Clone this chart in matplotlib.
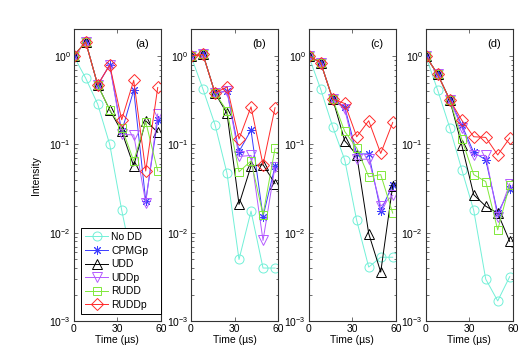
import numpy as np
import matplotlib
matplotlib.use("Agg")
import matplotlib.pyplot as plt
from matplotlib.ticker import LogLocator, NullFormatter

plt.rcParams['font.family'] = ['Liberation Sans', 'DejaVu Sans']
plt.rcParams['mathtext.fontset'] = 'custom'
plt.rcParams['mathtext.rm'] = 'Liberation Sans'
plt.rcParams['mathtext.it'] = 'Liberation Sans'

time_us = [0, 8.25, 16.5, 24.75, 33.0, 41.25, 49.5, 57.75]
series_names = ["No DD", "CPMGp", "UDD", "UDDp", "RUDD", "RUDDp"]
panel_labels = ["(a)", "(b)", "(c)", "(d)"]

# panel (a)
a_nodd  = [1, 0.56, 0.285, 0.10, 0.018, 0.004, 0.0035, 0.005]
a_cpmgp = [1, 1.44, 0.47, 0.79, 0.14, 0.41, 0.023, 0.19]
a_udd   = [1, 1.44, 0.47, 0.245, 0.14, 0.057, 0.185, 0.137]
a_uddp  = [1, 1.44, 0.47, 0.79, 0.13, 0.128, 0.022, 0.22]
a_rudd  = [1, 1.44, 0.47, 0.245, 0.155, 0.065, 0.18, 0.05]
a_ruddp = [1, 1.44, 0.47, 0.79, 0.19, 0.53, 0.05, 0.44]
# panel (b)
b_nodd  = [1, 0.42, 0.167, 0.047, 0.005, 0.0176, 0.004, 0.004]
b_cpmgp = [1, 1.04, 0.38, 0.40, 0.083, 0.145, 0.0153, 0.0565]
b_udd   = [1, 1.04, 0.38, 0.224, 0.021, 0.057, 0.059, 0.036]
b_uddp  = [1, 1.04, 0.38, 0.40, 0.073, 0.075, 0.0082, 0.056]
b_rudd  = [1, 1.04, 0.38, 0.24, 0.049, 0.065, 0.016, 0.090]
b_ruddp = [1, 1.04, 0.38, 0.447, 0.115, 0.266, 0.059, 0.26]
# panel (c)
c_nodd  = [1, 0.42, 0.158, 0.067, 0.0138, 0.0041, 0.0053, 0.0053]
c_cpmgp = [1, 0.84, 0.325, 0.266, 0.078, 0.078, 0.0177, 0.035]
c_udd   = [1, 0.84, 0.325, 0.11, 0.076, 0.0098, 0.0036, 0.034]
c_uddp  = [1, 0.84, 0.325, 0.25, 0.068, 0.068, 0.020, 0.0265]
c_rudd  = [1, 0.84, 0.325, 0.14, 0.091, 0.043, 0.0455, 0.0167]
c_ruddp = [1, 0.84, 0.325, 0.29, 0.122, 0.185, 0.079, 0.177]
# panel (d)
d_nodd  = [1, 0.41, 0.155, 0.052, 0.018, 0.003, 0.0017, 0.0032]
d_cpmgp = [1, 0.62, 0.32, 0.167, 0.081, 0.067, 0.0167, 0.031]
d_udd   = [1, 0.62, 0.32, 0.099, 0.027, 0.020, 0.0167, 0.008]
d_uddp  = [1, 0.62, 0.32, 0.155, 0.075, 0.075, 0.015, 0.036]
d_rudd  = [1, 0.62, 0.32, 0.115, 0.0455, 0.038, 0.0108, 0.035]
d_ruddp = [1, 0.62, 0.32, 0.188, 0.122, 0.12, 0.076, 0.118]

panels = [
    [a_nodd, a_cpmgp, a_udd, a_uddp, a_rudd, a_ruddp],
    [b_nodd, b_cpmgp, b_udd, b_uddp, b_rudd, b_ruddp],
    [c_nodd, c_cpmgp, c_udd, c_uddp, c_rudd, c_ruddp],
    [d_nodd, d_cpmgp, d_udd, d_uddp, d_rudd, d_ruddp],
]

colors = ['#72f0d8', '#3c3cff', '#000000', '#b45aff', '#80e83a', '#ff2a2a']
markers = ['o', (8, 2, 0), '^', 'v', 's', 'D']
msizes = [6.5, 6.5, 6.5, 6.5, 5.5, 6.0]

W, H = 522, 349
fig = plt.figure(figsize=(W / 100, H / 100), dpi=100)
lefts = [73.7, 191.0, 308.7, 425.7]
ax_w = 87.3
ax_top, ax_bot = 29.3, 321.3

for i, data in enumerate(panels):
    ax = fig.add_axes([lefts[i] / W, (H - ax_bot) / H, ax_w / W, (ax_bot - ax_top) / H])
    for j, vals in enumerate(data):
        ax.plot(time_us, vals, color=colors[j], marker=markers[j], markersize=msizes[j],
                markerfacecolor='none', markeredgecolor=colors[j], markeredgewidth=0.7,
                linewidth=0.7, label=series_names[j])
    ax.set_yscale('log')
    ax.set_xlim(0, 60)
    ax.set_ylim(1e-3, 2)
    ax.set_xticks([0, 30, 60])
    ax.yaxis.set_major_locator(LogLocator(base=10, numticks=10))
    ax.yaxis.set_minor_locator(LogLocator(base=10, subs=np.arange(2, 10), numticks=20))
    ax.yaxis.set_minor_formatter(NullFormatter())
    ax.tick_params(axis='both', which='both', direction='in', top=True, right=True,
                   labelsize=7.5, colors='#333333', labelcolor='black', pad=2)
    ax.tick_params(which='major', length=3, width=0.5)
    ax.tick_params(which='minor', length=1.8, width=0.5)
    for s in ax.spines.values():
        s.set_linewidth(0.8)
        s.set_color('#333333')
    ax.set_xlabel('Time (\u00b5s)', fontsize=7.5, labelpad=1)
    ax.text(0.78, 0.95, panel_labels[i], transform=ax.transAxes, fontsize=8,
            ha='center', va='center')
    if i == 0:
        ax.set_ylabel('Intensity', fontsize=7.5, labelpad=6)
        leg = ax.legend(loc='lower left', bbox_to_anchor=(0.084, 0.024, 0.913, 0.296),
                        mode='expand', borderaxespad=0, fontsize=7.5, frameon=True,
                        fancybox=False, edgecolor='black', framealpha=1,
                        handlelength=2.2, handletextpad=0.3, labelspacing=0.35,
                        borderpad=0.4)
        leg.get_frame().set_linewidth(0.7)

fig.savefig('out.png', dpi=100)
